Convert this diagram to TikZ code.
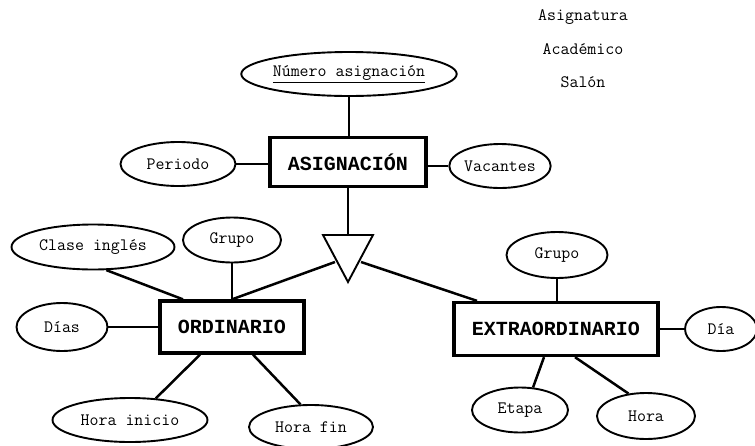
\documentclass[tikz,border=0pt]{standalone}
\usepackage{fontspec}
\setmainfont{Liberation Mono}
\usetikzlibrary{shapes.geometric}
\begin{document}
\begin{tikzpicture}[x=1pt,y=-1pt,
  attr/.style={draw, ellipse, line width=1.9pt, inner sep=0pt, font=\ttfamily\fontsize{17.4}{19}\selectfont},
  entity/.style={draw, rectangle, line width=3.3pt, inner sep=0pt, font=\fontsize{20}{23}\selectfont\bfseries},
  link/.style={line width=2.5pt},
  label/.style={font=\ttfamily\fontsize{17.4}{19}\selectfont}]
\useasboundingbox (0,0) rectangle (755,445);

% side notes
\node[label] (n1) at (583,17) {Asignatura};
\node[label] (n2) at (583,49) {Académico};
\node[label] (n3) at (583,82) {Salón};

% entities
\node[entity, minimum width=156, minimum height=49] (asig) at (348,162) {ASIGNACIÓN};
\node[entity, minimum width=144, minimum height=52] (ord) at (232,327) {ORDINARIO};
\node[entity, minimum width=204, minimum height=53] (ext) at (556,329) {EXTRAORDINARIO};

% attributes of ASIGNACIÓN
\node[attr, minimum width=208, minimum height=44] (num) at (349,74) {\underline{Número asignación}};
\node[attr, minimum width=115, minimum height=44] (per) at (178,164) {Periodo};
\node[attr, minimum width=98, minimum height=44] (vac) at (500,166) {Vacantes};

% attributes of ORDINARIO
\node[attr, minimum width=163, minimum height=45] (clase) at (93,247) {Clase inglés};
\node[attr, minimum width=98, minimum height=45] (grupo1) at (232,240) {Grupo};
\node[attr, minimum width=91, minimum height=48] (dias) at (62,327) {Días};
\node[attr, minimum width=155, minimum height=44] (hini) at (130,420) {Hora inicio};
\node[attr, minimum width=124, minimum height=44] (hfin) at (311,427) {Hora fin};

% attributes of EXTRAORDINARIO
\node[attr, minimum width=101, minimum height=46] (grupo2) at (557,255) {Grupo};
\node[attr, minimum width=72, minimum height=44] (dia) at (721,329) {Día};
\node[attr, minimum width=96, minimum height=45] (etapa) at (520,410) {Etapa};
\node[attr, minimum width=98, minimum height=46] (hora) at (646,416) {Hora};

% specialisation triangle
\coordinate (tl) at (323,235);
\coordinate (tr) at (373,235);
\coordinate (tb) at (348,282);
\coordinate (ttop) at (348,235);
\coordinate (tleft) at (335,262);
\coordinate (tright) at (361,262);
\draw[line width=1.9pt, line join=miter] (tl) -- (tr) -- (tb) -- cycle;

% connectors
\draw[link] (num.south) -- (asig.north -| num.south);
\draw[link] (per.east) -- (asig.west |- per.east);
\draw[link] (vac.west) -- (asig.east |- vac.west);
\draw[link] (asig.south -| ttop) -- (ttop);
\draw[link] (tleft) -- (ord.north);
\draw[link] (tright) -- ([xshift=-79pt]ext.north);

\draw[link] (clase.-60) -- ([xshift=-49pt]ord.north);
\draw[link] (grupo1.south) -- (ord.north);
\draw[link] (dias.east) -- (ord.west);
\draw[link] ([xshift=-32pt]ord.south) -- (hini.40);
\draw[link] ([xshift=21pt]ord.south) -- (hfin.115);

\draw[link] (grupo2.south) -- (ext.north -| grupo2.south);
\draw[link] (ext.east) -- (dia.west);
\draw[link] ([xshift=-12pt]ext.south) -- (etapa.60);
\draw[link] ([xshift=19pt]ext.south) -- (hora.128);
\end{tikzpicture}
\end{document}
